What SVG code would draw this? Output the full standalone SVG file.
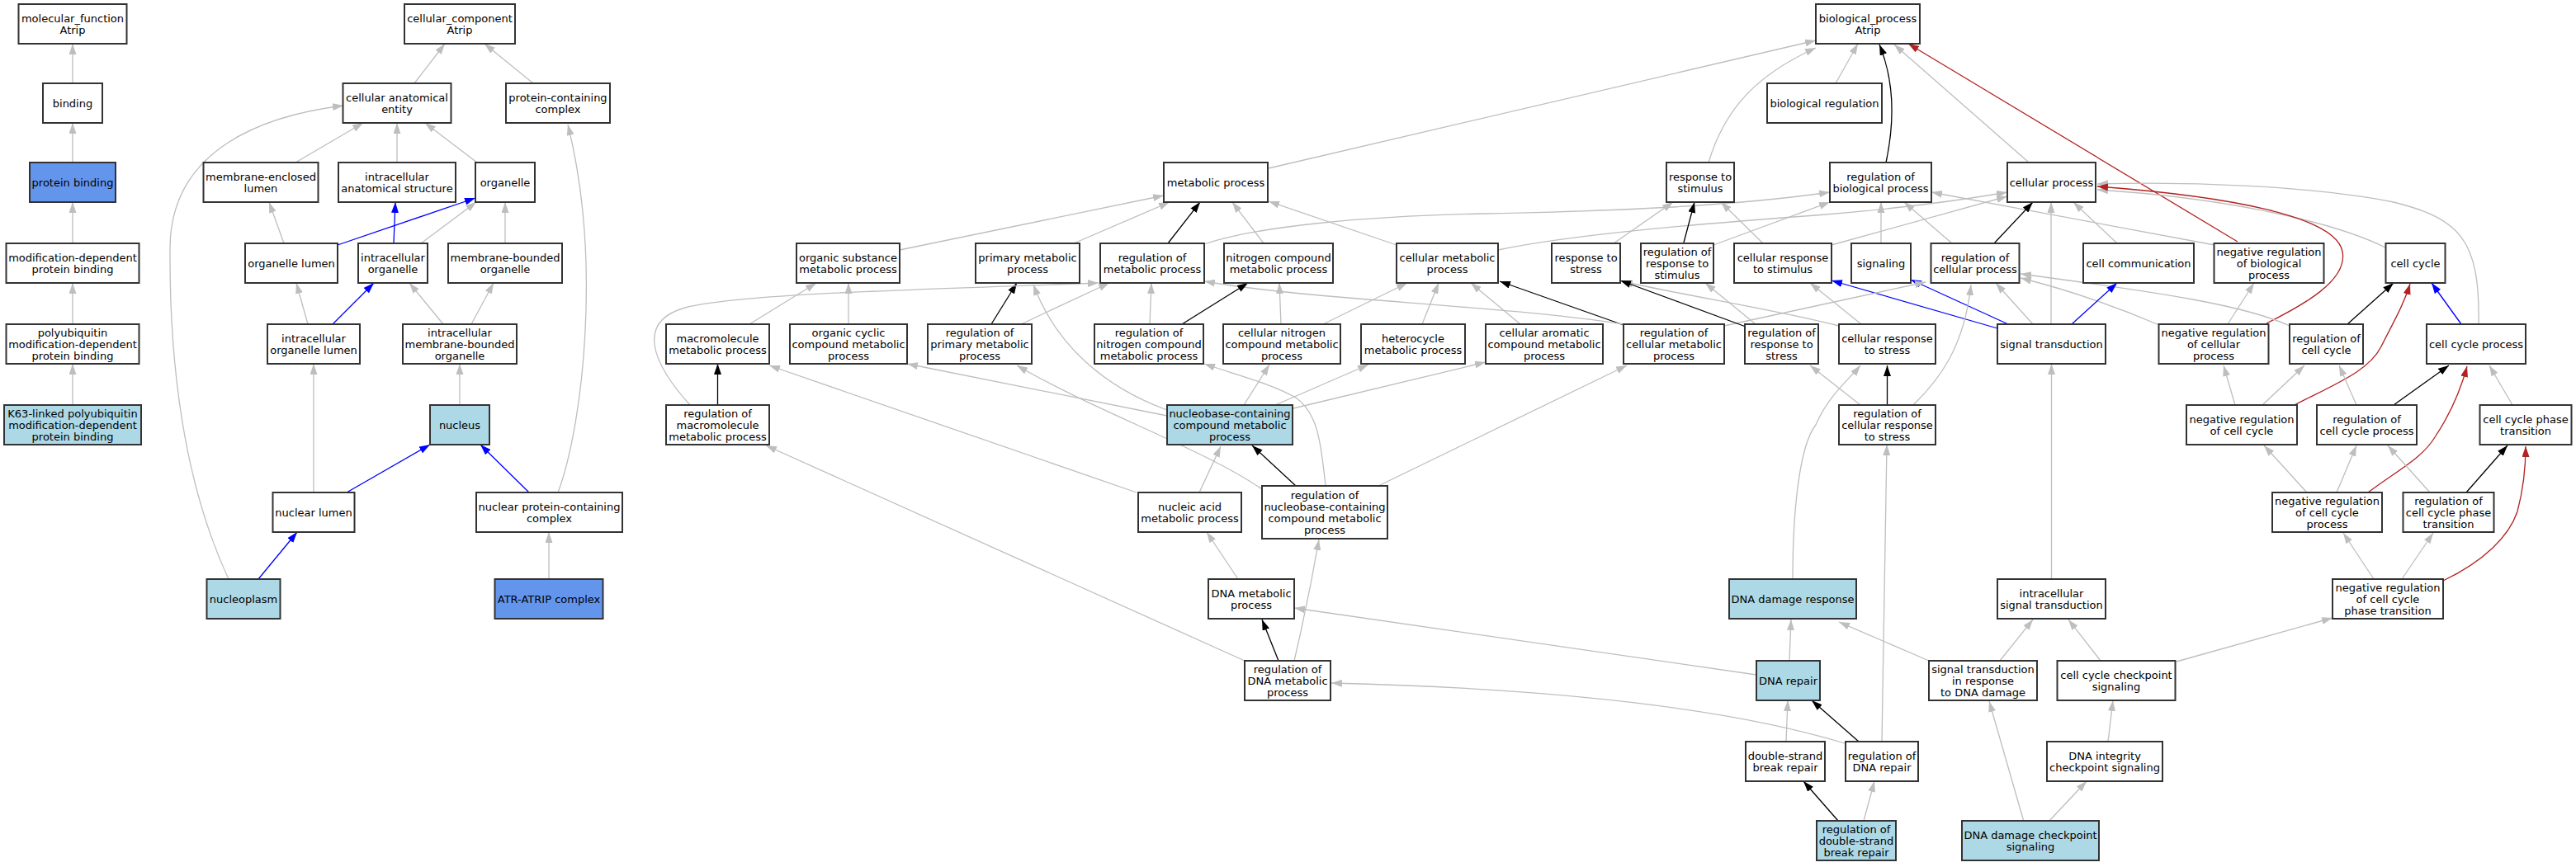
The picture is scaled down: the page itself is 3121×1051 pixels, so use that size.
<svg xmlns="http://www.w3.org/2000/svg" width="3121" height="1051" viewBox="0 0 3121 1051">
<defs>
<style>
.n rect{fill:#fff;stroke:#333;stroke-width:2}
.n.lb rect{fill:#add8e6}
.n.cb rect{fill:#6495ed}
.n text{font-family:"DejaVu Sans","Liberation Sans",sans-serif;font-size:13px;text-anchor:middle;fill:#000}
#edges path{fill:none;stroke-width:1.3}
#edges .g{stroke:#bebebe;marker-end:url(#ag)}
#edges .k{stroke:#000;marker-end:url(#ak)}
#edges .b{stroke:#0000ff;marker-end:url(#ab)}
#edges .r{stroke:#b22222;marker-end:url(#ar)}
</style>
<marker id="ag" markerUnits="userSpaceOnUse" markerWidth="13" markerHeight="9" refX="13" refY="4.5" orient="auto"><path d="M0,0L13,4.5L0,9z" fill="#bebebe"/></marker>
<marker id="ak" markerUnits="userSpaceOnUse" markerWidth="13" markerHeight="9" refX="13" refY="4.5" orient="auto"><path d="M0,0L13,4.5L0,9z" fill="#000"/></marker>
<marker id="ab" markerUnits="userSpaceOnUse" markerWidth="13" markerHeight="9" refX="13" refY="4.5" orient="auto"><path d="M0,0L13,4.5L0,9z" fill="#0000ff"/></marker>
<marker id="ar" markerUnits="userSpaceOnUse" markerWidth="13" markerHeight="9" refX="13" refY="4.5" orient="auto"><path d="M0,0L13,4.5L0,9z" fill="#b22222"/></marker>
</defs>
<rect width="3121" height="1051" fill="#fff"/>
<g id="edges">
<path class="g" d="M88,149L88,53"/>
<path class="g" d="M88,197L88,149"/>
<path class="g" d="M88,295L88,245"/>
<path class="g" d="M88,393L88,343"/>
<path class="g" d="M88,491L88,441"/>
<path class="g" d="M502,101L539,53"/>
<path class="g" d="M646,101L587,53"/>
<path class="g" d="M358,197L440,149"/>
<path class="g" d="M481,197L481,149"/>
<path class="g" d="M578,197L515,149"/>
<path class="g" d="M344,295L326,245"/>
<path class="b" d="M409,297L576,240"/>
<path class="b" d="M477,295L479,245"/>
<path class="g" d="M510,295L577,245"/>
<path class="g" d="M612,295L612,245"/>
<path class="g" d="M373,393L359,343"/>
<path class="b" d="M403,393L453,343"/>
<path class="g" d="M537,393L496,343"/>
<path class="g" d="M571,393L598,343"/>
<path class="g" d="M557,491L557,441"/>
<path class="g" d="M380,597L380,441"/>
<path class="b" d="M420,597L521,539"/>
<path class="b" d="M641,597L582,539"/>
<path class="g" d="M676,597C705,520 730,320 688,151"/>
<path class="g" d="M277,702C225,590 205,450 206,300C207,180 320,140 416,128"/>
<path class="b" d="M313,702L360,645"/>
<path class="g" d="M665,702L665,645"/>
<path class="g" d="M1537,204L2200,49"/>
<path class="g" d="M2070,197C2090,130 2130,90 2200,58"/>
<path class="g" d="M2224,101L2251,53"/>
<path class="k" d="M2285,197C2295,150 2296,100 2277,54"/>
<path class="g" d="M2457,196L2295,54"/>
<path class="r" d="M2711,293L2312,53"/>
<path class="g" d="M1090,303L1410,237"/>
<path class="g" d="M1301,295L1417,245"/>
<path class="k" d="M1415,295L1454,245"/>
<path class="g" d="M1531,295L1493,245"/>
<path class="g" d="M1692,297L1537,244"/>
<path class="g" d="M1459,296C1520,275 1650,262 1800,259C1950,256 2100,250 2217,233"/>
<path class="g" d="M1815,303C1900,285 2050,272 2200,261C2300,253 2380,242 2432,233"/>
<path class="g" d="M1955,295L2027,245"/>
<path class="k" d="M2040,294L2053,245"/>
<path class="g" d="M2136,295L2085,245"/>
<path class="g" d="M2076,297L2217,245"/>
<path class="g" d="M2219,297L2432,238"/>
<path class="g" d="M2279,295L2279,245"/>
<path class="g" d="M2365,295L2307,245"/>
<path class="g" d="M2683,297L2340,233"/>
<path class="k" d="M2416,295L2463,245"/>
<path class="g" d="M2565,295L2512,245"/>
<path class="g" d="M2485,393L2485,245"/>
<path class="g" d="M2890,300C2830,270 2700,240 2541,230"/>
<path class="g" d="M3003,393C3005,290 2980,265 2900,245C2800,225 2650,220 2541,223"/>
<path class="r" d="M2746,392C2790,370 2845,340 2838,305C2830,262 2700,238 2541,226"/>
<path class="g" d="M2699,393L2731,343"/>
<path class="g" d="M2616,394C2560,370 2500,350 2448,337"/>
<path class="g" d="M2774,395C2720,370 2620,355 2448,332"/>
<path class="g" d="M2463,393L2418,343"/>
<path class="b" d="M2510,393L2565,343"/>
<path class="b" d="M2433,393L2315,339"/>
<path class="b" d="M2420,398L2219,340"/>
<path class="g" d="M2089,395L2333,342"/>
<path class="g" d="M2228,395C2150,375 2050,360 1965,341"/>
<path class="k" d="M2115,396L1963,340"/>
<path class="g" d="M2255,393L2193,343"/>
<path class="g" d="M2127,393L2066,343"/>
<path class="k" d="M1967,394L1817,341"/>
<path class="g" d="M1967,393C1800,368 1600,365 1459,341"/>
<path class="g" d="M1723,393L1743,343"/>
<path class="g" d="M1842,393L1782,343"/>
<path class="g" d="M1603,393L1705,343"/>
<path class="g" d="M1552,393L1550,343"/>
<path class="k" d="M1432,393L1512,343"/>
<path class="g" d="M1393,393L1395,343"/>
<path class="k" d="M1201,393L1232,343"/>
<path class="g" d="M1237,393L1344,343"/>
<path class="g" d="M1028,393L1028,343"/>
<path class="g" d="M908,393L989,343"/>
<path class="g" d="M836,491C790,440 770,390 830,373C900,355 1150,350 1331,343"/>
<path class="k" d="M869.5,491L869.5,441"/>
<path class="g" d="M1377,597L932,443"/>
<path class="g" d="M1414,504L1099,441"/>
<path class="g" d="M1414,497C1340,470 1280,420 1252,345"/>
<path class="g" d="M1507,491L1538,442"/>
<path class="g" d="M1545,491L1658,442"/>
<path class="g" d="M1567,495L1800,439"/>
<path class="k" d="M1570,589L1517,540"/>
<path class="g" d="M1606,589C1600,530 1595,500 1570,482C1540,465 1500,455 1459,441"/>
<path class="g" d="M1529,593C1460,545 1330,500 1232,443"/>
<path class="g" d="M1670,589L1971,443"/>
<path class="g" d="M1453,597L1479,541"/>
<path class="g" d="M1500,702L1462,645"/>
<path class="k" d="M1549,801L1529,751"/>
<path class="g" d="M1508,801L928,540"/>
<path class="g" d="M1568,801C1580,750 1590,700 1598,654"/>
<path class="g" d="M2128,818L1568,737"/>
<path class="g" d="M2235,901C2100,860 1900,835 1613,828"/>
<path class="g" d="M2168,801L2170,751"/>
<path class="g" d="M2164,899L2166,849"/>
<path class="k" d="M2252,899L2195,849"/>
<path class="g" d="M2280,899L2286,539"/>
<path class="k" d="M2227,995L2185,947"/>
<path class="g" d="M2258,995L2271,947"/>
<path class="g" d="M2172,702C2172,620 2180,540 2200,515C2215,480 2240,460 2254,443"/>
<path class="g" d="M2337,801L2228,754"/>
<path class="g" d="M2452,996L2410,850"/>
<path class="g" d="M2482,996L2528,947"/>
<path class="g" d="M2554,899L2560,849"/>
<path class="g" d="M2545,801L2506,751"/>
<path class="g" d="M2423,801L2463,751"/>
<path class="g" d="M2637,802L2826,749"/>
<path class="g" d="M2485.5,702L2485.5,441"/>
<path class="g" d="M2876,702L2839,646"/>
<path class="g" d="M2910,702L2948,646"/>
<path class="r" d="M2960,704C3010,680 3040,650 3050,620C3058,590 3060,565 3060,541"/>
<path class="g" d="M2795,597L2743,540"/>
<path class="g" d="M2831,597L2855,540"/>
<path class="r" d="M2869,597C2905,570 2935,555 2950,530C2970,500 2982,470 2989,444"/>
<path class="g" d="M2944,597L2893,540"/>
<path class="k" d="M2988,597L3038,540"/>
<path class="g" d="M2708,491L2694,443"/>
<path class="g" d="M2741,491L2792,443"/>
<path class="r" d="M2778,492C2830,465 2870,450 2885,420C2900,390 2912,370 2920,344"/>
<path class="g" d="M2855,491L2834,443"/>
<path class="k" d="M2900,491L2967,443"/>
<path class="g" d="M3044,491L3016,443"/>
<path class="k" d="M2844,393L2900,343"/>
<path class="b" d="M2982,393L2946,343"/>
<path class="k" d="M2286.5,491L2286.5,443"/>
<path class="g" d="M2254,491L2193,443"/>
<path class="g" d="M2318,491C2350,460 2380,420 2388,345"/>
</g>
<g id="n_mf" class="n"><rect x="22.5" y="5" width="131" height="48"/><text><tspan x="88" y="26.6">molecular_function</tspan><tspan x="88" y="40.6">Atrip</tspan></text></g>
<g id="n_cc" class="n"><rect x="490" y="5" width="134" height="48"/><text><tspan x="557" y="26.6">cellular_component</tspan><tspan x="557" y="40.6">Atrip</tspan></text></g>
<g id="n_bp" class="n"><rect x="2200" y="5" width="126" height="48"/><text><tspan x="2263" y="26.6">biological_process</tspan><tspan x="2263" y="40.6">Atrip</tspan></text></g>
<g id="n_binding" class="n"><rect x="52" y="101" width="72" height="48"/><text x="88" y="129.6">binding</text></g>
<g id="n_cae" class="n"><rect x="415.5" y="101" width="131" height="48"/><text><tspan x="481" y="122.6">cellular anatomical</tspan><tspan x="481" y="136.6">entity</tspan></text></g>
<g id="n_pcc" class="n"><rect x="613" y="101" width="126" height="48"/><text><tspan x="676" y="122.6">protein-containing</tspan><tspan x="676" y="136.6">complex</tspan></text></g>
<g id="n_breg" class="n"><rect x="2141" y="101" width="139" height="48"/><text x="2210.5" y="129.6">biological regulation</text></g>
<g id="n_pb" class="n cb"><rect x="36" y="197" width="104" height="48"/><text x="88" y="225.6">protein binding</text></g>
<g id="n_mel" class="n"><rect x="246.5" y="197" width="139" height="48"/><text><tspan x="316" y="218.6">membrane-enclosed</tspan><tspan x="316" y="232.6">lumen</tspan></text></g>
<g id="n_ias" class="n"><rect x="410" y="197" width="142" height="48"/><text><tspan x="481" y="218.6">intracellular</tspan><tspan x="481" y="232.6">anatomical structure</tspan></text></g>
<g id="n_org" class="n"><rect x="576" y="197" width="72" height="48"/><text x="612" y="225.6">organelle</text></g>
<g id="n_mp" class="n"><rect x="1410" y="197" width="126" height="48"/><text x="1473" y="225.6">metabolic process</text></g>
<g id="n_rts" class="n"><rect x="2019" y="197" width="82" height="48"/><text><tspan x="2060" y="218.6">response to</tspan><tspan x="2060" y="232.6">stimulus</tspan></text></g>
<g id="n_rbp" class="n"><rect x="2217" y="197" width="123" height="48"/><text><tspan x="2278.5" y="218.6">regulation of</tspan><tspan x="2278.5" y="232.6">biological process</tspan></text></g>
<g id="n_cp" class="n"><rect x="2432" y="197" width="107" height="48"/><text x="2485.5" y="225.6">cellular process</text></g>
<g id="n_mdpb" class="n"><rect x="7.5" y="295" width="161" height="48"/><text><tspan x="88" y="316.6">modification-dependent</tspan><tspan x="88" y="330.6">protein binding</tspan></text></g>
<g id="n_ol" class="n"><rect x="297" y="295" width="112" height="48"/><text x="353" y="323.6">organelle lumen</text></g>
<g id="n_io" class="n"><rect x="434" y="295" width="84" height="48"/><text><tspan x="476" y="316.6">intracellular</tspan><tspan x="476" y="330.6">organelle</tspan></text></g>
<g id="n_mbo" class="n"><rect x="543" y="295" width="138" height="48"/><text><tspan x="612" y="316.6">membrane-bounded</tspan><tspan x="612" y="330.6">organelle</tspan></text></g>
<g id="n_osmp" class="n"><rect x="965" y="295" width="125" height="48"/><text><tspan x="1027.5" y="316.6">organic substance</tspan><tspan x="1027.5" y="330.6">metabolic process</tspan></text></g>
<g id="n_pmp" class="n"><rect x="1182" y="295" width="126" height="48"/><text><tspan x="1245" y="316.6">primary metabolic</tspan><tspan x="1245" y="330.6">process</tspan></text></g>
<g id="n_rmp" class="n"><rect x="1333" y="295" width="126" height="48"/><text><tspan x="1396" y="316.6">regulation of</tspan><tspan x="1396" y="330.6">metabolic process</tspan></text></g>
<g id="n_ncmp" class="n"><rect x="1483" y="295" width="132" height="48"/><text><tspan x="1549" y="316.6">nitrogen compound</tspan><tspan x="1549" y="330.6">metabolic process</tspan></text></g>
<g id="n_cmp" class="n"><rect x="1692" y="295" width="123" height="48"/><text><tspan x="1753.5" y="316.6">cellular metabolic</tspan><tspan x="1753.5" y="330.6">process</tspan></text></g>
<g id="n_rstress" class="n"><rect x="1880" y="295" width="83" height="48"/><text><tspan x="1921.5" y="316.6">response to</tspan><tspan x="1921.5" y="330.6">stress</tspan></text></g>
<g id="n_rrts" class="n"><rect x="1988" y="295" width="88" height="48"/><text><tspan x="2032" y="309.6">regulation of</tspan><tspan x="2032" y="323.6">response to</tspan><tspan x="2032" y="337.6">stimulus</tspan></text></g>
<g id="n_crts" class="n"><rect x="2101" y="295" width="118" height="48"/><text><tspan x="2160" y="316.6">cellular response</tspan><tspan x="2160" y="330.6">to stimulus</tspan></text></g>
<g id="n_sig" class="n"><rect x="2243" y="295" width="72" height="48"/><text x="2279" y="323.6">signaling</text></g>
<g id="n_rcp" class="n"><rect x="2339.5" y="295" width="107" height="48"/><text><tspan x="2393" y="316.6">regulation of</tspan><tspan x="2393" y="330.6">cellular process</tspan></text></g>
<g id="n_ccom" class="n"><rect x="2524" y="295" width="134" height="48"/><text x="2591" y="323.6">cell communication</text></g>
<g id="n_nrbp" class="n"><rect x="2682.5" y="295" width="133" height="48"/><text><tspan x="2749" y="309.6">negative regulation</tspan><tspan x="2749" y="323.6">of biological</tspan><tspan x="2749" y="337.6">process</tspan></text></g>
<g id="n_ccyc" class="n"><rect x="2890.5" y="295" width="72" height="48"/><text x="2926.5" y="323.6">cell cycle</text></g>
<g id="n_pmdpb" class="n"><rect x="7.5" y="393" width="161" height="48"/><text><tspan x="88" y="407.6">polyubiquitin</tspan><tspan x="88" y="421.6">modification-dependent</tspan><tspan x="88" y="435.6">protein binding</tspan></text></g>
<g id="n_iol" class="n"><rect x="324" y="393" width="112" height="48"/><text><tspan x="380" y="414.6">intracellular</tspan><tspan x="380" y="428.6">organelle lumen</tspan></text></g>
<g id="n_imbo" class="n"><rect x="488" y="393" width="138" height="48"/><text><tspan x="557" y="407.6">intracellular</tspan><tspan x="557" y="421.6">membrane-bounded</tspan><tspan x="557" y="435.6">organelle</tspan></text></g>
<g id="n_mmp" class="n"><rect x="807" y="393" width="125" height="48"/><text><tspan x="869.5" y="414.6">macromolecule</tspan><tspan x="869.5" y="428.6">metabolic process</tspan></text></g>
<g id="n_occmp" class="n"><rect x="957" y="393" width="142" height="48"/><text><tspan x="1028" y="407.6">organic cyclic</tspan><tspan x="1028" y="421.6">compound metabolic</tspan><tspan x="1028" y="435.6">process</tspan></text></g>
<g id="n_rpmp" class="n"><rect x="1124" y="393" width="126" height="48"/><text><tspan x="1187" y="407.6">regulation of</tspan><tspan x="1187" y="421.6">primary metabolic</tspan><tspan x="1187" y="435.6">process</tspan></text></g>
<g id="n_rncmp" class="n"><rect x="1326" y="393" width="132" height="48"/><text><tspan x="1392" y="407.6">regulation of</tspan><tspan x="1392" y="421.6">nitrogen compound</tspan><tspan x="1392" y="435.6">metabolic process</tspan></text></g>
<g id="n_cncmp" class="n"><rect x="1482" y="393" width="142" height="48"/><text><tspan x="1553" y="407.6">cellular nitrogen</tspan><tspan x="1553" y="421.6">compound metabolic</tspan><tspan x="1553" y="435.6">process</tspan></text></g>
<g id="n_hmp" class="n"><rect x="1649" y="393" width="126" height="48"/><text><tspan x="1712" y="414.6">heterocycle</tspan><tspan x="1712" y="428.6">metabolic process</tspan></text></g>
<g id="n_cacmp" class="n"><rect x="1800" y="393" width="142" height="48"/><text><tspan x="1871" y="407.6">cellular aromatic</tspan><tspan x="1871" y="421.6">compound metabolic</tspan><tspan x="1871" y="435.6">process</tspan></text></g>
<g id="n_rcmp" class="n"><rect x="1967" y="393" width="122" height="48"/><text><tspan x="2028" y="407.6">regulation of</tspan><tspan x="2028" y="421.6">cellular metabolic</tspan><tspan x="2028" y="435.6">process</tspan></text></g>
<g id="n_rrs" class="n"><rect x="2114" y="393" width="89" height="48"/><text><tspan x="2158.5" y="407.6">regulation of</tspan><tspan x="2158.5" y="421.6">response to</tspan><tspan x="2158.5" y="435.6">stress</tspan></text></g>
<g id="n_crs" class="n"><rect x="2228" y="393" width="117" height="48"/><text><tspan x="2286.5" y="414.6">cellular response</tspan><tspan x="2286.5" y="428.6">to stress</tspan></text></g>
<g id="n_st" class="n"><rect x="2420" y="393" width="131" height="48"/><text x="2485.5" y="421.6">signal transduction</text></g>
<g id="n_nrcp" class="n"><rect x="2615.5" y="393" width="133" height="48"/><text><tspan x="2682" y="407.6">negative regulation</tspan><tspan x="2682" y="421.6">of cellular</tspan><tspan x="2682" y="435.6">process</tspan></text></g>
<g id="n_rcc" class="n"><rect x="2774" y="393" width="89" height="48"/><text><tspan x="2818.5" y="414.6">regulation of</tspan><tspan x="2818.5" y="428.6">cell cycle</tspan></text></g>
<g id="n_ccp" class="n"><rect x="2940" y="393" width="120" height="48"/><text x="3000" y="421.6">cell cycle process</text></g>
<g id="n_k63" class="n lb"><rect x="5" y="491" width="166" height="48"/><text><tspan x="88" y="505.6">K63-linked polyubiquitin</tspan><tspan x="88" y="519.6">modification-dependent</tspan><tspan x="88" y="533.6">protein binding</tspan></text></g>
<g id="n_nucleus" class="n lb"><rect x="521" y="491" width="72" height="48"/><text x="557" y="519.6">nucleus</text></g>
<g id="n_rmmp" class="n"><rect x="807" y="491" width="125" height="48"/><text><tspan x="869.5" y="505.6">regulation of</tspan><tspan x="869.5" y="519.6">macromolecule</tspan><tspan x="869.5" y="533.6">metabolic process</tspan></text></g>
<g id="n_nbcmp" class="n lb"><rect x="1414" y="491" width="152" height="48"/><text><tspan x="1490" y="505.6">nucleobase-containing</tspan><tspan x="1490" y="519.6">compound metabolic</tspan><tspan x="1490" y="533.6">process</tspan></text></g>
<g id="n_rcrs" class="n"><rect x="2228" y="491" width="117" height="48"/><text><tspan x="2286.5" y="505.6">regulation of</tspan><tspan x="2286.5" y="519.6">cellular response</tspan><tspan x="2286.5" y="533.6">to stress</tspan></text></g>
<g id="n_nrcc" class="n"><rect x="2649" y="491" width="134" height="48"/><text><tspan x="2716" y="512.6">negative regulation</tspan><tspan x="2716" y="526.6">of cell cycle</tspan></text></g>
<g id="n_rccp" class="n"><rect x="2807" y="491" width="121" height="48"/><text><tspan x="2867.5" y="512.6">regulation of</tspan><tspan x="2867.5" y="526.6">cell cycle process</tspan></text></g>
<g id="n_ccpt" class="n"><rect x="3004.5" y="491" width="111" height="48"/><text><tspan x="3060" y="512.6">cell cycle phase</tspan><tspan x="3060" y="526.6">transition</tspan></text></g>
<g id="n_nl" class="n"><rect x="330.5" y="597" width="99" height="48"/><text x="380" y="625.6">nuclear lumen</text></g>
<g id="n_npcc" class="n"><rect x="577" y="597" width="177" height="48"/><text><tspan x="665.5" y="618.6">nuclear protein-containing</tspan><tspan x="665.5" y="632.6">complex</tspan></text></g>
<g id="n_namp" class="n"><rect x="1379" y="597" width="125" height="48"/><text><tspan x="1441.5" y="618.6">nucleic acid</tspan><tspan x="1441.5" y="632.6">metabolic process</tspan></text></g>
<g id="n_rnbcmp" class="n"><rect x="1529" y="589" width="152" height="64"/><text><tspan x="1605" y="604.6">regulation of</tspan><tspan x="1605" y="618.6">nucleobase-containing</tspan><tspan x="1605" y="632.6">compound metabolic</tspan><tspan x="1605" y="646.6">process</tspan></text></g>
<g id="n_nrccp" class="n"><rect x="2753" y="597" width="133" height="48"/><text><tspan x="2819.5" y="611.6">negative regulation</tspan><tspan x="2819.5" y="625.6">of cell cycle</tspan><tspan x="2819.5" y="639.6">process</tspan></text></g>
<g id="n_rccpt" class="n"><rect x="2911.5" y="597" width="110" height="48"/><text><tspan x="2966.5" y="611.6">regulation of</tspan><tspan x="2966.5" y="625.6">cell cycle phase</tspan><tspan x="2966.5" y="639.6">transition</tspan></text></g>
<g id="n_nucleoplasm" class="n lb"><rect x="250.5" y="702" width="89" height="48"/><text x="295" y="730.6">nucleoplasm</text></g>
<g id="n_atr" class="n cb"><rect x="599.5" y="702" width="131" height="48"/><text x="665" y="730.6">ATR-ATRIP complex</text></g>
<g id="n_dnamp" class="n"><rect x="1464" y="702" width="104" height="48"/><text><tspan x="1516" y="723.6">DNA metabolic</tspan><tspan x="1516" y="737.6">process</tspan></text></g>
<g id="n_ddr" class="n lb"><rect x="2095" y="702" width="154" height="48"/><text x="2172" y="730.6">DNA damage response</text></g>
<g id="n_isgt" class="n"><rect x="2420" y="702" width="131" height="48"/><text><tspan x="2485.5" y="723.6">intracellular</tspan><tspan x="2485.5" y="737.6">signal transduction</tspan></text></g>
<g id="n_nrccpt" class="n"><rect x="2826" y="702" width="134" height="48"/><text><tspan x="2893" y="716.6">negative regulation</tspan><tspan x="2893" y="730.6">of cell cycle</tspan><tspan x="2893" y="744.6">phase transition</tspan></text></g>
<g id="n_rdnamp" class="n"><rect x="1508" y="801" width="104" height="48"/><text><tspan x="1560" y="815.6">regulation of</tspan><tspan x="1560" y="829.6">DNA metabolic</tspan><tspan x="1560" y="843.6">process</tspan></text></g>
<g id="n_dnar" class="n lb"><rect x="2128" y="801" width="77" height="48"/><text x="2166.5" y="829.6">DNA repair</text></g>
<g id="n_stdd" class="n"><rect x="2337" y="801" width="131" height="48"/><text><tspan x="2402.5" y="815.6">signal transduction</tspan><tspan x="2402.5" y="829.6">in response</tspan><tspan x="2402.5" y="843.6">to DNA damage</tspan></text></g>
<g id="n_cccs" class="n"><rect x="2492.5" y="801" width="143" height="48"/><text><tspan x="2564" y="822.6">cell cycle checkpoint</tspan><tspan x="2564" y="836.6">signaling</tspan></text></g>
<g id="n_dsbr" class="n"><rect x="2115" y="899" width="96" height="48"/><text><tspan x="2163" y="920.6">double-strand</tspan><tspan x="2163" y="934.6">break repair</tspan></text></g>
<g id="n_rdnar" class="n"><rect x="2236" y="899" width="88" height="48"/><text><tspan x="2280" y="920.6">regulation of</tspan><tspan x="2280" y="934.6">DNA repair</tspan></text></g>
<g id="n_dnaics" class="n"><rect x="2480" y="899" width="140" height="48"/><text><tspan x="2550" y="920.6">DNA integrity</tspan><tspan x="2550" y="934.6">checkpoint signaling</tspan></text></g>
<g id="n_rdsbr" class="n lb"><rect x="2201" y="995" width="96" height="48"/><text><tspan x="2249" y="1009.6">regulation of</tspan><tspan x="2249" y="1023.6">double-strand</tspan><tspan x="2249" y="1037.6">break repair</tspan></text></g>
<g id="n_ddcs" class="n lb"><rect x="2377" y="995" width="166" height="48"/><text><tspan x="2460" y="1016.6">DNA damage checkpoint</tspan><tspan x="2460" y="1030.6">signaling</tspan></text></g>
</svg>
